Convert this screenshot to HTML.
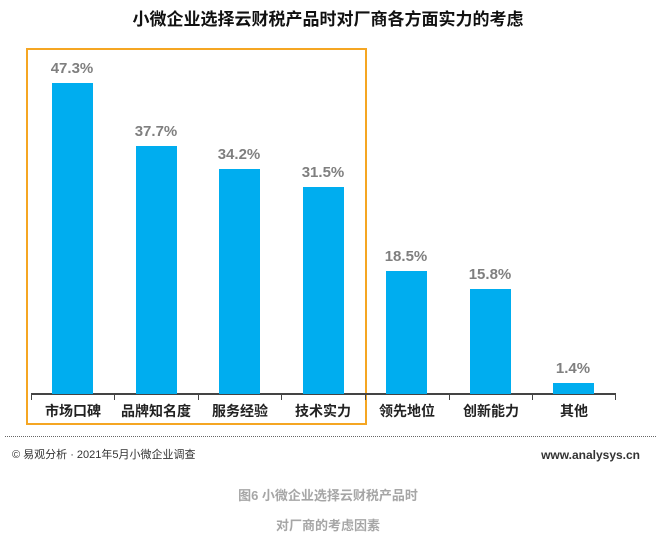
<!DOCTYPE html>
<html><head><meta charset="utf-8"><style>
body{margin:0;width:656px;height:537px;background:#fff;position:relative;overflow:hidden;font-family:"Liberation Sans","Noto Sans CJK SC",sans-serif}
.a{position:absolute;white-space:nowrap}
.bar{position:absolute;background:#00adef;width:41px}
.v{position:absolute;width:80px;text-align:center;font-size:15px;font-weight:bold;color:#7f7f7f}
.l{position:absolute;width:84px;text-align:center;font-size:14px;font-weight:bold;color:#222;top:401px}
.t{position:absolute;top:394px;width:1px;height:6px;background:#444}
</style></head><body>
<div class="a" style="left:0;width:656px;text-align:center;top:5px;font-size:17px;font-weight:bold;color:#111">小微企业选择云财税产品时对厂商各方面实力的考虑</div>
<div class="a" style="left:26px;top:48px;width:341px;height:377px;border:2px solid #f5a623;box-sizing:border-box"></div>
<div class="a" style="left:31px;top:393px;width:585px;height:1.5px;background:#444"></div>
<div class="t" style="left:31px"></div><div class="t" style="left:114px"></div><div class="t" style="left:198px"></div><div class="t" style="left:281px"></div><div class="t" style="left:365px"></div><div class="t" style="left:449px"></div><div class="t" style="left:532px"></div><div class="t" style="left:615px"></div>
<div class="bar" style="left:52px;top:83px;height:311px"></div><div class="v" style="left:32px;top:60px">47.3%</div>
<div class="bar" style="left:136px;top:146px;height:248px"></div><div class="v" style="left:116px;top:123px">37.7%</div>
<div class="bar" style="left:219px;top:169px;height:225px"></div><div class="v" style="left:199px;top:146px">34.2%</div>
<div class="bar" style="left:303px;top:187px;height:207px"></div><div class="v" style="left:283px;top:164px">31.5%</div>
<div class="bar" style="left:386px;top:271px;height:123px"></div><div class="v" style="left:366px;top:248px">18.5%</div>
<div class="bar" style="left:470px;top:289px;height:105px"></div><div class="v" style="left:450px;top:266px">15.8%</div>
<div class="bar" style="left:553px;top:383px;height:11px"></div><div class="v" style="left:533px;top:360px">1.4%</div>
<div class="l" style="left:31px">市场口碑</div><div class="l" style="left:114px">品牌知名度</div><div class="l" style="left:198px">服务经验</div><div class="l" style="left:281px">技术实力</div><div class="l" style="left:365px">领先地位</div><div class="l" style="left:449px">创新能力</div><div class="l" style="left:532px">其他</div>
<div class="a" style="left:5px;top:436px;width:651px;border-top:1.5px dotted #666"></div>
<div class="a" style="left:12px;top:446px;font-size:11px;color:#333">© 易观分析 · 2021年5月小微企业调查</div>
<div class="a" style="right:16px;top:448px;font-size:12px;color:#333;font-weight:bold">www.analysys.cn</div>
<div class="a" style="left:0;width:656px;text-align:center;top:485px;font-size:13px;font-weight:bold;color:#a6a6a6">图6 小微企业选择云财税产品时</div>
<div class="a" style="left:0;width:656px;text-align:center;top:515px;font-size:13px;font-weight:bold;color:#a6a6a6">对厂商的考虑因素</div>
</body></html>
